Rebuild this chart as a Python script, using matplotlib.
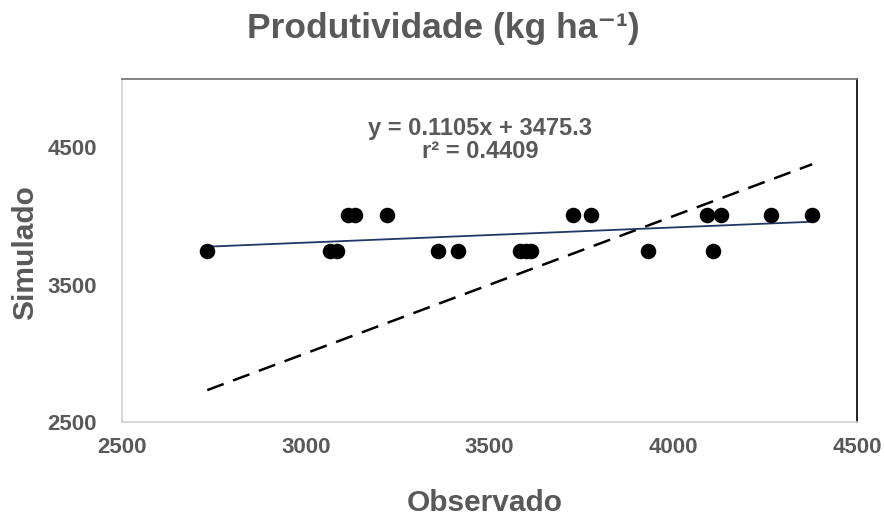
import numpy as np
import matplotlib.pyplot as plt

plt.rcParams['font.family'] = ['Liberation Sans', 'DejaVu Sans']

# observed vs simulated yield (kg/ha)
obs_low = [2732, 3066, 3084, 3359, 3415, 3583, 3600, 3612, 3931, 4108]
sim_low = [3744, 3744, 3744, 3744, 3744, 3744, 3744, 3744, 3744, 3744]
obs_high = [3115, 3134, 3221, 3726, 3776, 4091, 4129, 4266, 4378]
sim_high = [4005, 4005, 4005, 4005, 4005, 4005, 4005, 4005, 4005]

slope = 0.1105
intercept = 3475.3
r2 = 0.4409

xticks = [2500, 3000, 3500, 4000, 4500]
yticks = [2500, 3500, 4500]

gray = '#595959'

fig = plt.figure(figsize=(8.84, 5.19), dpi=100)
ax = fig.add_axes([0.138, 0.187, 0.8315, 0.661])

obs = obs_low + obs_high
sim = sim_low + sim_high
xmin, xmax = min(obs), max(obs)

# 1:1 line
ax.plot([xmin, xmax], [xmin, xmax], color='black', lw=1.8, ls=(0, (7, 4)), zorder=2)
# fitted line
xf = np.array([xmin, xmax])
ax.plot(xf, slope * xf + intercept, color='#203864', lw=1.3, zorder=3)

ax.scatter(obs, sim, s=125, color='black', zorder=4, linewidths=0)

ax.set_xlim(2500, 4500)
ax.set_ylim(2500, 5000)
ax.set_xticks(xticks)
ax.set_yticks(yticks)
ax.tick_params(length=0, labelsize=16, labelcolor=gray)
ax.tick_params(axis='x', pad=11)
ax.tick_params(axis='y', pad=18)
for lab in ax.get_xticklabels() + ax.get_yticklabels():
    lab.set_fontweight('bold')

ax.spines['left'].set_color('#d0d0d0')
ax.spines['bottom'].set_color('#d0d0d0')
ax.spines['top'].set_color('#707070')
ax.spines['right'].set_color('black')
for s in ax.spines.values():
    s.set_linewidth(1.2)

ax.text(0.487, 0.822, 'y = %.4fx + %.1f\nr² = %.4f' % (slope, intercept, r2),
        transform=ax.transAxes, ha='center', va='center', fontsize=17,
        fontweight='bold', color=gray, linespacing=1.0)

fig.text(0.501, 0.945, 'Produtividade (kg ha⁻¹)', ha='center', va='center',
         fontsize=25.5, fontweight='bold', color=gray)
fig.text(0.028, 0.514, 'Simulado', rotation=90, ha='center', va='center',
         fontsize=21.5, fontweight='bold', color=gray)
fig.text(0.548, 0.03, 'Observado', ha='center', va='center',
         fontsize=21.5, fontweight='bold', color=gray)

fig.savefig('out.png', dpi=100)
